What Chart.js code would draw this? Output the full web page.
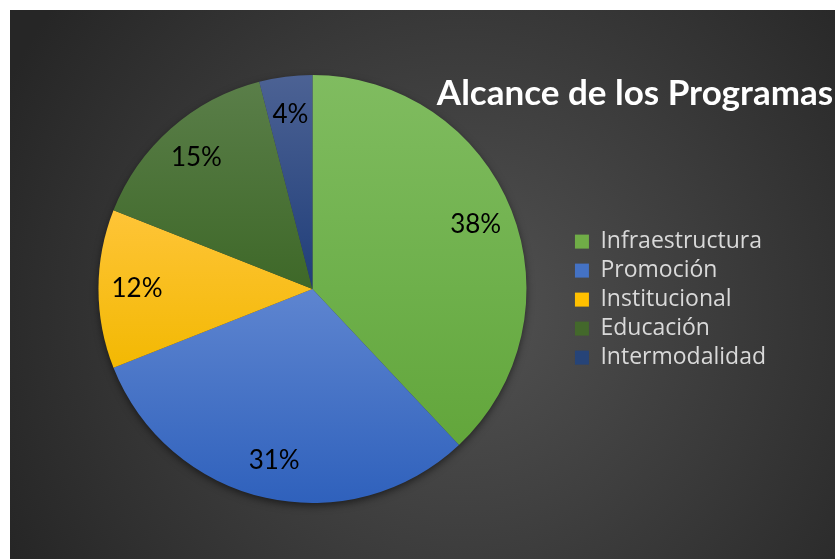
<!DOCTYPE html>
<html>
<head>
<meta charset="utf-8">
<script src="https://cdn.jsdelivr.net/npm/chart.js@4.4.1/dist/chart.umd.min.js"></script>
<style>
    body { margin: 0; background: #ffffff; }
    #wrap { position: absolute; left: 10px; top: 10px; width: 825px; height: 549px; }
</style>
</head>
<body>
<div id="wrap"><canvas id="pieChart"></canvas></div>
<script>
// Chart data
const categories = ['Infraestructura', 'Promoción', 'Institucional', 'Educación', 'Intermodalidad'];
const shares = [38, 31, 12, 15, 4];
const chartTitle = 'Alcance de los Programas';

// Gradient stops for each slice (position over the pie height, colour)
const sliceStops = [
    [[0, '#80bc60'], [0.5, '#6eb04b'], [1, '#5ea235']],
    [[0, '#6a8fd6'], [0.5, '#5e85d0'], [1, '#2f61bc']],
    [[0, '#ffcc4a'], [0.3, '#ffc53a'], [0.7, '#f2b800'], [1, '#e8b000']],
    [[0, '#5b7f4a'], [0.5, '#3e6828'], [1, '#3a6224']],
    [[0, '#4c6294'], [0.5, '#203e79'], [1, '#1e3a72']]
];
const legendColors = ['#70ad47', '#4472c4', '#ffc000', '#43682b', '#264478'];

function sliceFill(context) {
    const chart = context.chart;
    const area = chart.chartArea;
    if (!area) return legendColors[context.dataIndex];
    const g = chart.ctx.createLinearGradient(0, area.top, 0, area.bottom);
    sliceStops[context.dataIndex].forEach(s => g.addColorStop(s[0], s[1]));
    return g;
}

// Dark panel with a soft radial light
const panelPlugin = {
    id: 'panel',
    beforeDraw(chart) {
        const { ctx, width, height } = chart;
        const g = ctx.createRadialGradient(width * 0.55, height * 0.55, 0, width * 0.55, height * 0.55, width * 0.62);
        g.addColorStop(0, '#525252');
        g.addColorStop(1, '#262626');
        ctx.save();
        ctx.fillStyle = g;
        ctx.fillRect(0, 0, width, height);
        ctx.restore();
    },
    beforeDatasetsDraw(chart) {
        // soft shadow under the pie
        const arc = chart.getDatasetMeta(0).data[0];
        if (!arc) return;
        const { ctx } = chart;
        ctx.save();
        ctx.shadowColor = 'rgba(0,0,0,0.6)';
        ctx.shadowBlur = 9;
        ctx.shadowOffsetY = 3;
        ctx.fillStyle = '#3a3a3a';
        ctx.beginPath();
        ctx.arc(arc.x, arc.y, arc.outerRadius - 1, 0, Math.PI * 2);
        ctx.fill();
        ctx.restore();
    },
    afterDraw(chart) {
        const { ctx } = chart;
        ctx.save();
        ctx.fillStyle = '#ffffff';
        ctx.font = 'bold 35px Lato';
        ctx.textAlign = 'center';
        ctx.textBaseline = 'alphabetic';
        ctx.fillText(chartTitle, 625, 95);
        ctx.restore();
    }
};

// Percentage labels inside the slices
const sliceLabels = {
    id: 'sliceLabels',
    afterDatasetsDraw(chart) {
        const { ctx } = chart;
        const meta = chart.getDatasetMeta(0);
        const total = shares.reduce((a, b) => a + b, 0);
        ctx.save();
        ctx.fillStyle = '#000000';
        ctx.font = '26px Lato';
        ctx.textAlign = 'center';
        ctx.textBaseline = 'middle';
        meta.data.forEach((arc, i) => {
            const mid = (arc.startAngle + arc.endAngle) / 2;
            const r = arc.outerRadius * 0.82;
            const x = arc.x + Math.cos(mid) * r;
            const y = arc.y + Math.sin(mid) * r;
            ctx.fillText(Math.round(shares[i] / total * 100) + '%', x, y);
        });
        ctx.restore();
    }
};

const ctx = document.getElementById('pieChart').getContext('2d');
new Chart(ctx, {
    type: 'pie',
    data: {
        labels: categories,
        datasets: [{
            data: shares,
            backgroundColor: sliceFill,
            borderWidth: 0
        }]
    },
    options: {
        responsive: true,
        maintainAspectRatio: false,
        animation: false,
        devicePixelRatio: 1,
        layout: { padding: { left: 46, right: 59, top: 65, bottom: 56 } },
        plugins: {
            tooltip: { enabled: false },
            legend: {
                position: 'right',
                align: 'center',
                title: { display: true, text: '', font: { size: 1 }, padding: { top: 10, bottom: 10 } },
                labels: {
                    color: '#d9d9d9',
                    font: { family: 'Open Sans', size: 23 },
                    boxWidth: 14,
                    boxHeight: 14,
                    padding: 6,
                    generateLabels(chart) {
                        return categories.map((c, i) => ({
                            text: c,
                            fillStyle: legendColors[i],
                            strokeStyle: legendColors[i],
                            fontColor: '#d9d9d9',
                            lineWidth: 0,
                            hidden: false,
                            index: i
                        }));
                    }
                }
            }
        }
    },
    plugins: [panelPlugin, sliceLabels]
});
</script>
</body>
</html>
